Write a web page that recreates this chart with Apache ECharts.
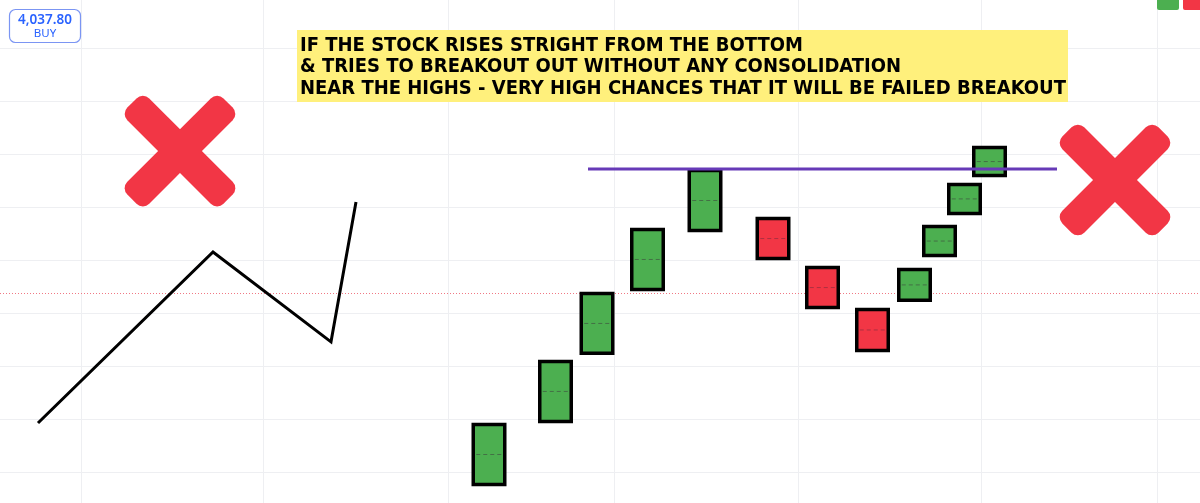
<!DOCTYPE html>
<html>
<head>
<meta charset="utf-8">
<script src="https://cdn.jsdelivr.net/npm/echarts@6/dist/echarts.min.js"></script>
<style>
  html, body { margin: 0; padding: 0; background: #ffffff; }
  #chart { width: 1200px; height: 503px; }
</style>
</head>
<body>
<div id="chart"></div>
<script>
// ---- data (x in bar-time units, y in price) ----
const candleX     = [48.9, 55.55, 59.7, 64.75, 70.5, 77.3, 82.25, 87.25, 91.45, 93.95, 96.45, 98.95];
const candleOpen  = [3894.7, 3918.5, 3944.2, 3968.3, 3990.6, 3996.2, 3977.7, 3961.9, 3964.2, 3981.1, 3997.0, 4011.3];
const candleClose = [3918.5, 3942.3, 3967.9, 3992.1, 4014.3, 3980.0, 3961.5, 3945.3, 3977.0, 3993.2, 4009.1, 4023.0];

const swingX = [3.8, 21.3, 33.1, 35.6];
const swingY = [3918.5, 3983.0, 3949.1, 4001.9];

const resistanceX = [58.8, 105.7];
const resistanceLevel = 4014.3;

const priceLineLevel = 3967.5;

const failMarkX = [18.0, 111.5];
const failMarkY = [4021.1, 4010.2];

const xGridTicks = [8.1, 26.3, 44.8, 61.4, 79.8, 98.1, 115.7];
const yMin = 3900, yMax = 4060, yStep = 20;
const xMin = 0, xMax = 120;

const noteLines = [
  'IF THE STOCK RISES STRIGHT FROM THE BOTTOM',
  '& TRIES TO BREAKOUT OUT WITHOUT ANY CONSOLIDATION',
  'NEAR THE HIGHS - VERY HIGH CHANCES THAT IT WILL BE FAILED BREAKOUT'
];
const buyPrice = '4,037.80';
const buyLabel = 'BUY';

// ---- build ----
const GREEN = '#4caf50', RED = '#f23645', GRID = '#eeeff2';
const candleWidth = 3.45;

const candleData = candleX.map((x, i) => [x, candleOpen[i], candleClose[i]]);
const swingData = swingX.map((x, i) => [x, swingY[i]]);
const markData = failMarkX.map((x, i) => [x, failMarkY[i]]);
const gridData = xGridTicks.map(v => [v]);

const chart = echarts.init(document.getElementById('chart'), null, { renderer: 'canvas' });

const NOTE_FONT = 'bold 20px "DejaVu Sans Condensed", "DejaVu Sans", sans-serif';
const ZTOP = 100;

const option = {
  animation: false,
  backgroundColor: '#ffffff',
  grid: { left: 0, right: 0, top: 48, bottom: 31, containLabel: false },
  xAxis: {
    type: 'value', min: xMin, max: xMax,
    axisLine: { show: false }, axisTick: { show: false }, axisLabel: { show: false },
    splitLine: { show: false }
  },
  yAxis: {
    type: 'value', min: yMin, max: yMax, interval: yStep,
    axisLine: { show: false }, axisTick: { show: false }, axisLabel: { show: false },
    splitLine: { show: true, lineStyle: { color: GRID, width: 1 } }
  },
  series: [
    {
      // vertical time grid lines
      type: 'custom', z: 0, silent: true, clip: false,
      data: gridData,
      renderItem: function (params, api) {
        const p = api.coord([api.value(0), yMin]);
        const x = Math.round(p[0]) + 0.5;
        return { type: 'line', shape: { x1: x, y1: 0, x2: x, y2: 503 },
          style: { stroke: GRID, lineWidth: 1 } };
      }
    },
    {
      // last price dotted line
      type: 'custom', z: 1, silent: true, clip: false,
      data: [[priceLineLevel]],
      renderItem: function (params, api) {
        const p = api.coord([xMin, api.value(0)]);
        const q = api.coord([xMax, api.value(0)]);
        const y = Math.round(p[1]) + 0.5;
        return { type: 'line', shape: { x1: p[0], y1: y, x2: q[0], y2: y },
          style: { stroke: '#f07884', fill: null, lineWidth: 1, lineDash: [1, 2] } };
      }
    },
    {
      type: 'line', data: swingData, symbol: 'none', z: 3,
      lineStyle: { color: '#000000', width: 3, join: 'miter' }
    },
    {
      type: 'custom', z: 4, clip: false,
      data: candleData,
      renderItem: function (params, api) {
        const x = api.value(0), o = api.value(1), c = api.value(2);
        const p1 = api.coord([x, o]), p2 = api.coord([x, c]);
        const w = api.size([candleWidth, 0])[0];
        const top = Math.min(p1[1], p2[1]) + 1.5;
        const bot = Math.max(p1[1], p2[1]) - 1.5;
        const left = p1[0] - w / 2 + 1.5;
        const width = w - 3;
        const mid = (top + bot) / 2;
        const up = c >= o;
        return {
          type: 'group',
          children: [
            { type: 'rect', shape: { x: left, y: top, width: width, height: bot - top },
              style: { fill: up ? GREEN : RED, stroke: '#000000', lineWidth: 3.5 } },
            { type: 'line', shape: { x1: left + 3, y1: mid, x2: left + width - 3, y2: mid },
              style: { stroke: up ? 'rgba(60,60,60,0.55)' : 'rgba(90,40,60,0.45)', lineWidth: 1, lineDash: [4, 3] } }
          ]
        };
      }
    },
    {
      type: 'line', z: 5, symbol: 'none',
      data: [[resistanceX[0], resistanceLevel], [resistanceX[1], resistanceLevel]],
      lineStyle: { color: '#673ab7', width: 3 }
    },
    {
      type: 'custom', z: 6, clip: false,
      data: markData,
      renderItem: function (params, api) {
        const p = api.coord([api.value(0), api.value(1)]);
        const L = 136, t = 31;
        const arm = (rot) => ({
          type: 'rect', rotation: rot,
          shape: { x: -L / 2, y: -t / 2, width: L, height: t, r: 9 },
          style: { fill: RED }
        });
        return { type: 'group', x: p[0], y: p[1], children: [arm(Math.PI / 4), arm(-Math.PI / 4)] };
      }
    }
  ],
  graphic: {
    z: ZTOP,
    elements: [
      { type: 'rect', z: ZTOP, shape: { x: 9.5, y: 9.5, width: 71, height: 33, r: 6 },
        style: { fill: '#ffffff', stroke: '#7b95f3', lineWidth: 1.2 } },
      { type: 'text', z: ZTOP + 1, x: 45, y: 20,
        style: { text: buyPrice, fill: '#2962ff', font: '600 13.5px "Noto Sans", sans-serif', align: 'center', verticalAlign: 'middle' } },
      { type: 'text', z: ZTOP + 1, x: 45, y: 34,
        style: { text: buyLabel, fill: '#2962ff', font: '11.5px "Noto Sans", sans-serif', align: 'center', verticalAlign: 'middle' } },
      { type: 'rect', z: ZTOP, shape: { x: 1157, y: -6, width: 22, height: 16, r: 2 }, style: { fill: '#4caf50' } },
      { type: 'rect', z: ZTOP, shape: { x: 1183, y: -6, width: 24, height: 16, r: 2 }, style: { fill: '#f23645' } },
      { type: 'rect', z: ZTOP, shape: { x: 297, y: 30, width: 771, height: 72 }, style: { fill: '#fff07c' } },
      { type: 'text', z: ZTOP + 1, x: 300, y: 45.5,
        style: { text: noteLines[0], fill: '#000000', font: NOTE_FONT, verticalAlign: 'middle' } },
      { type: 'text', z: ZTOP + 1, x: 300, y: 67,
        style: { text: noteLines[1], fill: '#000000', font: NOTE_FONT, verticalAlign: 'middle' } },
      { type: 'text', z: ZTOP + 1, x: 300, y: 88.5,
        style: { text: noteLines[2], fill: '#000000', font: NOTE_FONT, verticalAlign: 'middle' } }
    ]
  }
};
chart.setOption(option);
</script>
</body>
</html>
